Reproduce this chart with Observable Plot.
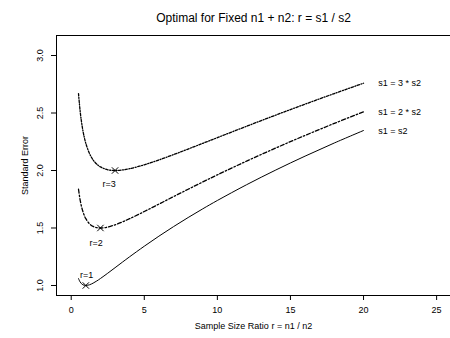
<!DOCTYPE html>
<html><head><meta charset="utf-8">
<script src="https://cdn.jsdelivr.net/npm/d3@7"></script>
<script src="https://cdn.jsdelivr.net/npm/@observablehq/plot@0.6"></script>
<style>body{margin:0;background:#fff;font-family:"Liberation Sans",Arial,sans-serif}</style>
</head><body><div id="chart"></div>
<script>
const ratio = [0.5,0.6,0.7,0.8,0.9,1,1.25,1.5,1.75,2,2.5,3,3.5,4,5,6,7,8,9,10,12,14,16,18,20];
const seEqual = [1.0607,1.0328,1.0160,1.0062,1.0014,1.0,1.0062,1.0206,1.0394,1.0607,1.1068,1.1547,1.2027,1.25,1.3416,1.4289,1.5119,1.5910,1.6667,1.7393,1.8764,2.0045,2.125,2.2392,2.3479];
const seTwice = [1.8371,1.7512,1.6893,1.6432,1.6082,1.5811,1.5370,1.5138,1.5030,1.5,1.5083,1.5275,1.5527,1.5811,1.6432,1.7078,1.7728,1.8371,1.9003,1.9621,2.0817,2.1958,2.3049,2.4095,2.5100];
const seThrice = [2.6693,2.5298,2.4268,2.3479,2.2858,2.2361,2.1477,2.0917,2.0551,2.0310,2.0062,2.0,2.0045,2.0156,2.0494,2.0917,2.1381,2.1866,2.2361,2.2858,2.3848,2.4821,2.5769,2.6693,2.7591];
const seriesNames = ["s1 = s2","s1 = 2 * s2","s1 = 3 * s2"];
const seriesLabelY = [2.34,2.505,2.76];
const optR = [1,2,3];
const optSE = [1.0,1.5,2.0];
const optLabels = ["r=1","r=2","r=3"];
const optLabelX = [1.05,1.7,2.6];
const optLabelY = [1.09,1.365,1.878];
const xTicks = [0,5,10,15,20,25];
const yTicks = [1.0,1.5,2.0,2.5,3.0];
const xDomain = [-1.006,25.95];
const yDomain = [0.913,3.174];

const mk = (vals) => ratio.map((r,i)=>({r, se: vals[i]}));
const s1 = mk(seEqual), s2 = mk(seTwice), s3 = mk(seThrice);

const chart = Plot.plot({
  width: 450, height: 338,
  marginLeft: 56, marginRight: 0, marginTop: 35, marginBottom: 43,
  style: {fontFamily: "'Liberation Sans', Arial, sans-serif", fontSize: "9px", color: "black", background: "white"},
  x: {domain: xDomain},
  y: {domain: yDomain},
  marks: [
    Plot.ruleY([yDomain[0], yDomain[1]], {stroke: "black", strokeWidth: 1}),
    Plot.ruleX([xDomain[0]], {stroke: "black", strokeWidth: 1}),
    Plot.axisX(xTicks, {tickSize: 5, tickPadding: 6, fontSize: 9, label: null, tickFormat: d => String(d)}),
    Plot.axisY(yTicks, {tickSize: 5, label: null, tickFormat: () => ""}),
    Plot.text(yTicks, {y: d => d, frameAnchor: "left", dx: -16, rotate: -90, textAnchor: "middle", text: d => d.toFixed(1), fontSize: 9}),
    Plot.text(["Standard Error"], {frameAnchor: "left", dx: -31, rotate: -90, textAnchor: "middle", text: d => d, fontSize: 9}),
    Plot.text(["Sample Size Ratio r = n1 / n2"], {frameAnchor: "bottom", dy: 33, text: d => d, fontSize: 9}),
    Plot.text(["Optimal for Fixed n1 + n2: r = s1 / s2"], {frameAnchor: "top", dy: -22, text: d => d, fontSize: 12}),
    Plot.line(s1, {x: "r", y: "se", stroke: "black", strokeWidth: 1, curve: "catmull-rom"}),
    Plot.line(s2, {x: "r", y: "se", stroke: "black", strokeWidth: 1.3, strokeDasharray: "4,2,1.5,2", curve: "catmull-rom"}),
    Plot.line(s3, {x: "r", y: "se", stroke: "black", strokeWidth: 1.3, strokeDasharray: "2.5,1.5,1,1.5", curve: "catmull-rom"}),
    Plot.text(seriesNames, {x: () => 21, y: (d,i) => seriesLabelY[i], text: d => d, textAnchor: "start", fontSize: 9}),
    Plot.dot(optR, {x: d => d, y: (d,i) => optSE[i], symbol: "times", r: 3, stroke: "black", strokeWidth: 1}),
    Plot.text(optLabels, {x: (d,i) => optLabelX[i], y: (d,i) => optLabelY[i], text: d => d, fontSize: 9})
  ]
});
document.getElementById("chart").appendChild(chart);
</script>
</body></html>
